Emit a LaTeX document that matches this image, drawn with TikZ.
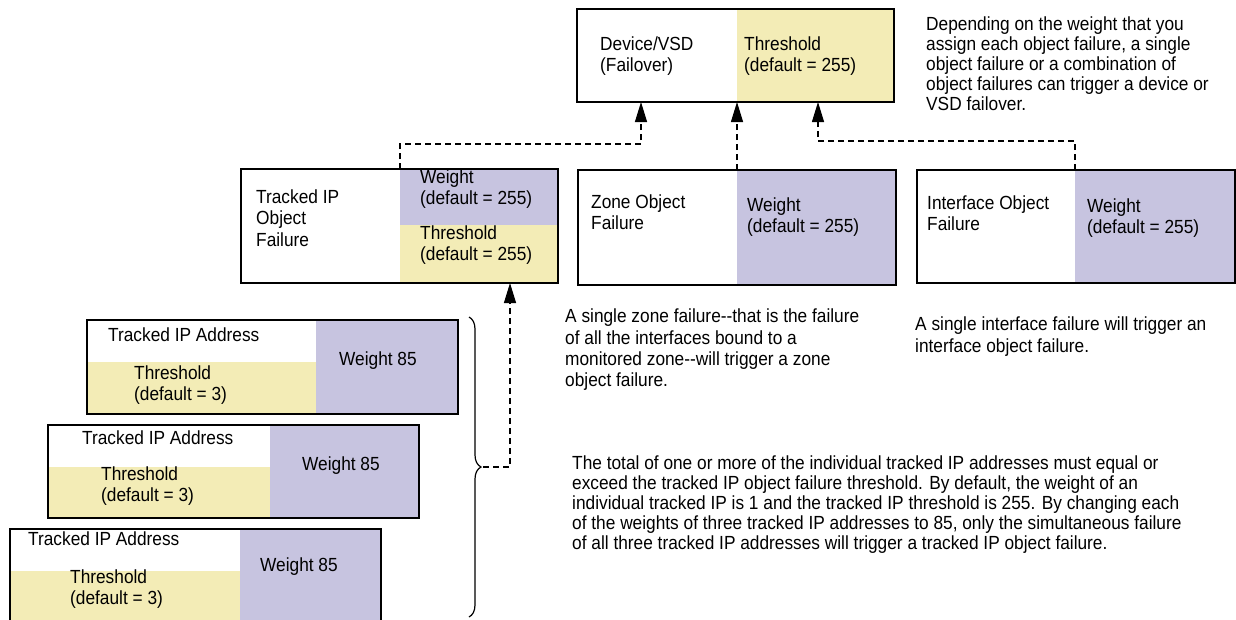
\documentclass[tikz,border=0pt]{standalone}
\usepackage{fontspec}
\setmainfont[FakeStretch=0.91]{Liberation Sans}
\usepackage{xcolor}
\usetikzlibrary{arrows.meta, decorations.pathreplacing}

\definecolor{threshyellow}{RGB}{243,236,182}
\definecolor{weightblue}{RGB}{199,196,224}

\begin{document}
\begin{tikzpicture}[x=1pt, y=-1pt,
  cell/.style={draw, line width=1.2pt, anchor=north west, inner sep=0pt, outer sep=0pt},
  fillcell/.style={anchor=north west, inner sep=0pt, outer sep=0pt},
  lbl/.style={anchor=west, align=left, inner sep=0pt, font=\fontsize{19}{21.5}\selectfont},
  note/.style={anchor=north west, align=left, inner sep=0pt, font=\fontsize{19}{19.8}\selectfont},
  widenote/.style={note, font=\fontsize{19}{21.3}\selectfont},
  link/.style={line width=1.2pt, dash pattern=on 6pt off 4pt, -{Triangle[length=20pt, width=12pt]}}]

\clip (0,0) rectangle (1236,619);

% Device / VSD

\node[fillcell, fill=threshyellow, minimum width=157, minimum height=93] (devth) at (737,9) {};
\node[cell, minimum width=317, minimum height=93] (dev) at (577,9) {};
\node[lbl] (devtext)   at (600,56) {Device/VSD\\(Failover)};
\node[lbl] (devthtext) at (744,56) {Threshold\\(default = 255)};

\node[note] (devnote) at (926,17) {Depending on the weight that you\\assign each object failure, a single\\object failure or a combination of\\object failures can trigger a device or\\VSD failover.};

% Object failures

\node[fillcell, fill=weightblue, minimum width=158, minimum height=56] (tipw) at (400,169) {};
\node[fillcell, fill=threshyellow, minimum width=158, minimum height=58] (tipth) at (400,225) {};
\node[cell, minimum width=317, minimum height=114] (tip) at (241,169) {};
\node[lbl] (tiptext)   at (256,218) {Tracked IP\\Object\\Failure};
\node[lbl] (tipwtext)  at (420,189) {Weight\\(default = 255)};
\node[lbl] (tipthtext) at (420,245) {Threshold\\(default = 255)};

\node[fillcell, fill=weightblue, minimum width=159, minimum height=115] (zonew) at (737,170) {};
\node[cell, minimum width=318, minimum height=115] (zone) at (578,170) {};
\node[lbl] (zonetext)  at (591,212) {Zone Object\\Failure};
\node[lbl] (zonewtext) at (747,217) {Weight\\(default = 255)};

\node[fillcell, fill=weightblue, minimum width=160, minimum height=113] (ifw) at (1075,170) {};
\node[cell, minimum width=318, minimum height=113] (if) at (917,170) {};
\node[lbl] (iftext)  at (927,213) {Interface Object\\Failure};
\node[lbl] (ifwtext) at (1087,218) {Weight\\(default = 255)};

\node[widenote] (zonenote) at (565,309) {A single zone failure-{}-that is the failure\\of all the interfaces bound to a\\monitored zone-{}-will trigger a zone\\object failure.};
\node[widenote] (ifnote) at (915,317) {A single interface failure will trigger an\\interface object failure.};

% Tracked IP addresses

\node[fillcell, fill=threshyellow, minimum width=229, minimum height=52] (ipath) at (87,362) {};
\node[fillcell, fill=weightblue, minimum width=142, minimum height=94] (ipaw) at (316,320) {};
\node[cell, minimum width=371, minimum height=94] (ipa) at (87,320) {};
\node[lbl] at (108,335) {Tracked IP Address};
\node[lbl] at (134,385) {Threshold\\(default = 3)};
\node[lbl] at (339,361) {Weight 85};

\node[fillcell, fill=threshyellow, minimum width=222, minimum height=51] (ipbth) at (48,467) {};
\node[fillcell, fill=weightblue, minimum width=149, minimum height=93] (ipbw) at (270,425) {};
\node[cell, minimum width=371, minimum height=93] (ipb) at (48,425) {};
\node[lbl] at (82,438) {Tracked IP Address};
\node[lbl] at (101,486) {Threshold\\(default = 3)};
\node[lbl] at (302,466) {Weight 85};

\node[fillcell, fill=threshyellow, minimum width=230, minimum height=53] (ipcth) at (10,571) {};
\node[fillcell, fill=weightblue, minimum width=141, minimum height=95] (ipcw) at (240,529) {};
\node[cell, minimum width=371, minimum height=95] (ipc) at (10,529) {};
\node[lbl] at (28,539) {Tracked IP Address};
\node[lbl] at (70,589) {Threshold\\(default = 3)};
\node[lbl] at (260,567) {Weight 85};

\node[note] (ipnote) at (572,456) {The total of one or more of the individual tracked IP addresses must equal or\\exceed the tracked IP object failure threshold. By default, the weight of an\\individual tracked IP is 1 and the tracked IP threshold is 255. By changing each\\of the weights of three tracked IP addresses to 85, only the simultaneous failure\\of all three tracked IP addresses will trigger a tracked IP object failure.};

% Dashed links

\coordinate (devin1) at (641,102);
\coordinate (devin3) at (818,102);
\coordinate (tipin) at (510,283);
\coordinate (bracetip) at (483,467);

\draw[link] (tipw.north west) -- ++(0,-25) -| (devin1);
\draw[link] (zonew.north west) -- (devth.south west);
\draw[link] (ifw.north west) -- ++(0,-29) -| (devin3);

\draw[decorate, decoration={brace, amplitude=12pt}, line width=1.2pt] (469,317) -- (469,617);
\draw[link] (bracetip) -| (tipin);

\end{tikzpicture}
\end{document}
